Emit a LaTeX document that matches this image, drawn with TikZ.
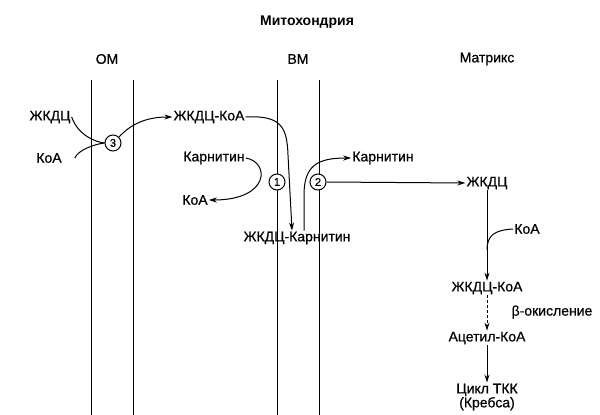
\documentclass[tikz,border=0pt]{standalone}
\usepackage{fontspec}
\setmainfont{Liberation Sans}
\newfontfamily\lblfont{Liberation Sans}[FakeBold=0.6]
\usetikzlibrary{arrows.meta}

\begin{document}
\begin{tikzpicture}[x=1pt,y=-1pt,
  lbl/.style={font=\lblfont\fontsize{14}{16}\selectfont, inner sep=1pt},
  enz/.style={draw, circle, fill=white, inner sep=0pt, minimum size=16pt, line width=1pt, font=\lblfont\fontsize{11}{12}\selectfont},
  memb/.style={line width=0.9pt},
  link/.style={line width=1pt},
  flow/.style={line width=1pt, -{Stealth[length=8pt,width=5pt]}}]
\useasboundingbox (0,0) rectangle (600,415);
% membranes
\draw[memb] (91,80) -- (91,415);
\draw[memb] (133,80) -- (133,415);
\draw[memb] (277,80) -- (277,415);
\draw[memb] (319,80) -- (319,415);
% headers
\node[lbl, font=\bfseries\fontsize{14}{16}\selectfont] (mito) at (307,22) {Митохондрия};
\node[lbl] (om) at (107,59) {ОМ};
\node[lbl] (vm) at (298,59) {ВМ};
\node[lbl] (matrix) at (487,59) {Матрикс};
% outer membrane
\node[lbl] (fa) at (50,117) {ЖКДЦ};
\node[lbl] (coa1) at (49,158) {КоА};
\node[enz] (c3) at (113,143) {3};
\node[lbl] (facoa) at (209,117) {ЖКДЦ-КоА};
% inner membrane
\node[lbl] (carn1) at (214,158) {Карнитин};
\node[lbl] (coa2) at (195,200) {КоА};
\node[enz] (c1) at (277,182) {1};
\node[enz] (c2) at (318,182) {2};
\node[lbl] (facarn) at (297,238) {ЖКДЦ-Карнитин};
\node[lbl] (carn2) at (383,158) {Карнитин};
% matrix
\node[lbl] (fa2) at (487,183) {ЖКДЦ};
\node[lbl] (coa3) at (527,229) {КоА};
\node[lbl] (facoa2) at (487,288) {ЖКДЦ-КоА};
\node[lbl] (beta) at (552,312) {β-окисление};
\node[lbl] (acetyl) at (487,338) {Ацетил-КоА};
\node[lbl, align=center, font=\lblfont\fontsize{14}{14}\selectfont] (tca) at (487,397) {Цикл ТКК\\(Кребса)};
\coordinate (join) at (487,250);
% connectors
\draw[link] (fa.east) .. controls (78,135) and (95,142) .. (c3.west);
\draw[link] ([xshift=12]coa1.east) .. controls (78,150) and (95,144) .. (c3.west);
\draw[flow] (c3.north east) .. controls (130,125) and (145,117) .. (facoa.west);
\draw[flow] (facoa.east) .. controls (282,115) and (287,128) .. (288,155) -- ([xshift=-5]facarn.north);
\draw[flow] (carn1.east) .. controls (270,162) and (270,200) .. (coa2.east);
\draw[flow] ([xshift=7]facarn.north) -- (304,195) .. controls (304,165) and (318,158) .. (carn2.west);
\draw[flow] (c2.east) -- (fa2.west);
\draw[flow] (fa2.south) -- (facoa2.north);
\draw[link] (coa3.west) .. controls (495,230) and (487,235) .. (join);
\draw[flow, densely dashed] (facoa2.south) -- (acetyl.north);
\draw[flow] (acetyl.south) -- (tca.north);
\end{tikzpicture}
\end{document}
